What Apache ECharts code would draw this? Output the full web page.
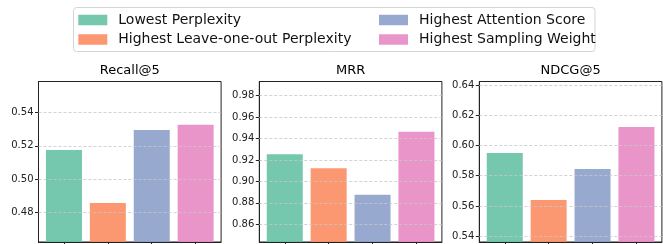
<!DOCTYPE html>
<html><head><meta charset="utf-8">
<script src="https://cdn.jsdelivr.net/npm/echarts@6/dist/echarts.min.js"></script>
<style>html,body{margin:0;padding:0;background:#fff}#c{width:663px;height:244px}</style>
</head><body><div id="c"></div>
<script>
const methods = ['Lowest Perplexity', 'Highest Leave-one-out Perplexity', 'Highest Attention Score', 'Highest Sampling Weight'];
const metrics = ['Recall@5', 'MRR', 'NDCG@5'];
const recall5 = [0.5176, 0.4856, 0.5296, 0.5327];
const mrr = [0.9253, 0.9124, 0.8875, 0.9463];
const ndcg5 = [0.5950, 0.5640, 0.5844, 0.6123];
const recallTicks = [0.48, 0.50, 0.52, 0.54];
const mrrTicks = [0.86, 0.88, 0.90, 0.92, 0.94, 0.96, 0.98];
const ndcgTicks = [0.54, 0.56, 0.58, 0.60, 0.62, 0.64];
const values = [recall5, mrr, ndcg5];
const ticks = [recallTicks, mrrTicks, ndcgTicks];
const yRanges = [[0.4621, 0.5588], [0.8435, 0.99325], [0.5362, 0.6423]];
const colors = ['#66c2a5', '#fc8d62', '#8da0cb', '#e78ac3'];
const gridLefts = [38.5, 259.3, 479.3];
const gridW = 182.6;
const FONT = 'DejaVu Sans';

const grids = [], xAxes = [], yAxes = [], titles = [], series = [];
for (let g = 0; g < 3; g++) {
  grids.push({left: gridLefts[g], top: 81.5, width: gridW, height: 160.5, show: true,
    borderColor: '#222', borderWidth: 1, backgroundColor: 'transparent', containLabel: false});
  xAxes.push({type: 'value', gridIndex: g, min: -0.58, max: 3.58,
    axisLine: {show: true, onZero: false, lineStyle: {color: '#222', width: 1}},
    axisTick: {show: true, length: 3.5, customValues: [0, 1, 2, 3], lineStyle: {color: '#222'}},
    axisLabel: {show: false}, splitLine: {show: false}});
  yAxes.push({type: 'value', gridIndex: g, min: yRanges[g][0], max: yRanges[g][1],
    axisLine: {show: true, onZero: false, lineStyle: {color: '#222', width: 1}},
    axisTick: {show: true, length: 3.5, customValues: ticks[g], lineStyle: {color: '#222'}},
    axisLabel: {show: true, margin: 5, fontSize: 10, color: '#222', fontFamily: FONT,
      customValues: ticks[g], formatter: v => v.toFixed(2)},
    splitLine: {show: false}});
  titles.push({text: metrics[g], left: gridLefts[g] + gridW / 2, top: 64, textAlign: 'center', padding: 0,
    textStyle: {fontSize: 13, fontWeight: 'normal', color: '#000', fontFamily: FONT}});
  // dashed horizontal gridlines at the tick values
  series.push({type: 'line', name: '_grid' + g, xAxisIndex: g, yAxisIndex: g, data: [], z: 1, silent: true,
    markLine: {silent: true, symbol: 'none', animation: false, label: {show: false},
      lineStyle: {color: '#c8c8c8', type: [3, 2], width: 0.8},
      data: ticks[g].map(v => ({yAxis: v}))}});
  for (let m = 0; m < 4; m++) {
    series.push({type: 'bar', name: methods[m], xAxisIndex: g, yAxisIndex: g, z: 2,
      data: [[m, values[g][m]]], barWidth: 36, barGap: '-100%',
      itemStyle: {color: colors[m], opacity: 0.9}, emphasis: {disabled: true}});
  }
}

const legendCommon = {orient: 'vertical', itemWidth: 29, itemHeight: 10.5, itemGap: 5.5, padding: 0,
  icon: 'rect', selectedMode: false,
  textStyle: {fontSize: 14, color: '#111', fontFamily: FONT, padding: [0, 0, 0, 6]}};

const chart = echarts.init(document.getElementById('c'), null, {renderer: 'canvas'});
chart.setOption({
  animation: false,
  title: titles,
  grid: grids, xAxis: xAxes, yAxis: yAxes,
  legend: [
    Object.assign({}, legendCommon, {data: [methods[0], methods[1]], left: 78.3, top: 13}),
    Object.assign({}, legendCommon, {data: [methods[2], methods[3]], left: 379, top: 13})
  ],
  graphic: [{type: 'rect', z: -10, shape: {x: 73.5, y: 7.5, width: 521.5, height: 44, r: 3},
    style: {fill: '#fff', stroke: '#d4d4d4', lineWidth: 1}}],
  series: series
});
</script></body></html>
